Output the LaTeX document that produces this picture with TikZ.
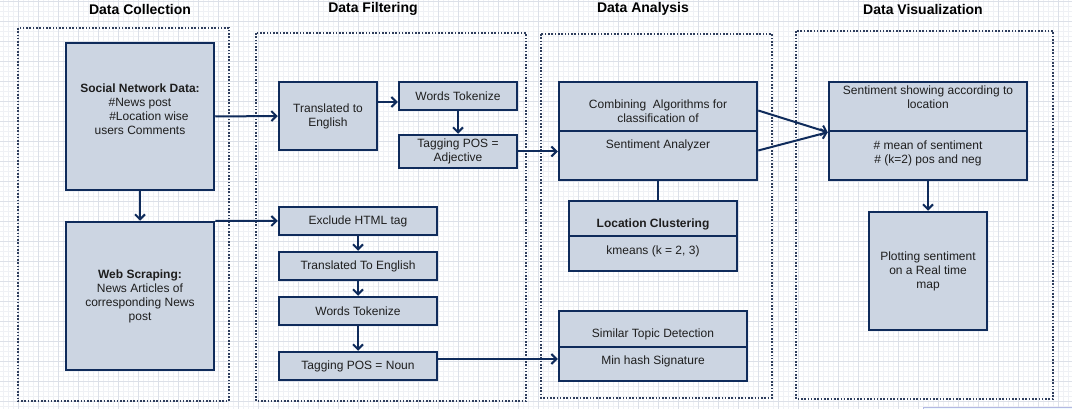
\documentclass[tikz,border=0pt]{standalone}
\usepackage{fontspec}
\setmainfont{Liberation Sans}
\usetikzlibrary{arrows.meta,positioning}
\definecolor{navy}{HTML}{0F2B5B}
\definecolor{boxfill}{HTML}{CCD5E2}
\definecolor{gridmajor}{HTML}{DCE0E8}
\definecolor{gridminor}{HTML}{EFF1F5}
\definecolor{ink}{HTML}{1E1E1E}
\definecolor{dotline}{HTML}{2E3D5C}

\begin{document}
\begin{tikzpicture}[
        x=1pt, y=1pt,
        every node/.style = {font=\fontsize{12}{14}\selectfont, text=ink},
        box/.style = {draw=navy, fill=boxfill, line width=2.5pt, align=center, inner sep=2pt},
        txt/.style = {inner sep=0pt, align=center},
        hdr/.style = {font=\fontsize{14}{16}\selectfont\bfseries, text=black},
        stage/.style = {draw=dotline, line width=2pt, dash pattern=on 1.6pt off 1.7pt},
        arr/.style = {draw=navy, line width=2pt, -{Straight Barb[length=5pt,width=10pt]}},
        link/.style = {draw=navy, line width=2pt}
    ]
    \useasboundingbox (0,0) rectangle (1072,-409);

    % background grid
    \begin{scope}[shift={(18,-1)}]
        \draw[gridminor, line width=0.6pt, step=5] (-18,-408) grid (1054,1);
        \draw[gridmajor, line width=0.8pt, step=20] (-18,-408) grid (1054,1);
    \end{scope}
    \draw[draw=cyan!30!blue!30, fill=cyan!6] (923,-407) rectangle (1076,-412);

    % stages
    \node[hdr] (hcol) at (140,-9) {Data Collection};
    \node[hdr] (hfil) at (373,-9) {Data Filtering};
    \node[hdr] (hana) at (643,-9) {Data Analysis};
    \node[hdr] (hvis) at (923,-9) {Data Visualization};

    \draw[stage] (18,-28) rectangle (229,-401);
    \draw[stage] (256,-33) rectangle (526,-401);
    \draw[stage] (541,-34) rectangle (772,-398);
    \draw[stage] (796,-31) rectangle (1053,-399);

    % data collection
    \node[box, minimum width=148, minimum height=147, text depth=14pt] (social) at (140,-116.5) {
        \textbf{Social Network Data:}\\
        \#News post\\
        \hspace*{1.5em}\#Location wise\\
        users Comments
    };
    \node[box, minimum width=148, minimum height=148] (web) at (140,-296) {
        \textbf{Web Scraping:}\\
        News Articles of\\
        corresponding News\\
        post
    };

    % data filtering
    \node[box, minimum width=98, minimum height=68] (trans1) at (328,-116) {Translated to\\English};
    \node[box, minimum width=118, minimum height=28] (words1) at (458,-96) {Words Tokenize};
    \node[box, minimum width=118, minimum height=33] (adj) at (458,-151.5) {Tagging POS =\\Adjective};

    \node[box, minimum width=158, minimum height=28] (excl) at (358,-221) {Exclude HTML tag};
    \node[box, minimum width=158, minimum height=28] (trans2) at (358,-266) {Translated To English};
    \node[box, minimum width=158, minimum height=28] (words2) at (358,-311) {Words Tokenize};
    \node[box, minimum width=158, minimum height=28] (noun) at (358,-366) {Tagging POS = Noun};

    % data analysis
    \node[box, minimum width=198, minimum height=49] (anaTop) at (658,-106.5) {};
    \node[box, minimum width=198, minimum height=49] (anaBot) at (658,-155.5) {};
    \node[txt, below=19pt of anaTop.north] (anaTopTxt) {Combining\ \ Algorithms for\\classification of};
    \node[txt, below=9.5pt of anaBot.north] (anaBotTxt) {Sentiment Analyzer};

    \node[box, minimum width=168, minimum height=35] (locTop) at (653,-218.5) {};
    \node[box, minimum width=168, minimum height=35] (locBot) at (653,-253.5) {};
    \node[txt, below=19pt of locTop.north] (locTopTxt) {\textbf{Location Clustering}};
    \node[txt, below=10.5pt of locBot.north] (locBotTxt) {kmeans (k = 2, 3)};

    \node[box, minimum width=188, minimum height=36] (simTop) at (653,-329) {};
    \node[box, minimum width=188, minimum height=34] (simBot) at (653,-364) {};
    \node[txt, below=19pt of simTop.north] (simTopTxt) {Similar Topic Detection};
    \node[txt, below=9.5pt of simBot.north] (simBotTxt) {Min hash Signature};

    % data visualization
    \node[box, minimum width=198, minimum height=49] (visTop) at (928,-106.5) {};
    \node[box, minimum width=198, minimum height=49] (visBot) at (928,-155.5) {};
    \node[txt, below=4.5pt of visTop.north] (visTopTxt) {Sentiment showing according to\\location};
    \node[txt, below=10.5pt of visBot.north] (visBotTxt) {\# mean of sentiment\\\# (k=2) pos and neg};

    \node[box, minimum width=118, minimum height=118] (plot) at (928,-271) {
        Plotting sentiment\\
        on a Real time\\
        map
    };

    % connectors
    \draw[arr] (social.south) -- (web.north);
    \draw[arr] (social.east) -- (trans1.west);
    \draw[arr] (web.north east) -- (excl.west);

    \draw[arr] ([yshift=-6pt]words1.west -| trans1.east) -- ([yshift=-6pt]words1.west);
    \draw[arr] (words1.south) -- (adj.north);
    \draw[arr] (adj.east) -- (adj.east -| anaBot.west);

    \draw[arr] (excl.south) -- (trans2.north);
    \draw[arr] (trans2.south) -- (words2.north);
    \draw[arr] (words2.south) -- (noun.north);
    \draw[arr] ([yshift=7pt]noun.east) -- ([yshift=7pt]noun.east -| simBot.west);

    \draw[link] (anaBot.south) -- (anaBot.south |- locTop.north);
    \draw[arr] ([yshift=-4pt]anaTop.east) -- (visTop.south west);
    \draw[arr] ([yshift=5pt]anaBot.east) -- (visTop.south west);
    \draw[arr] (visBot.south) -- (plot.north);

\end{tikzpicture}
\end{document}
